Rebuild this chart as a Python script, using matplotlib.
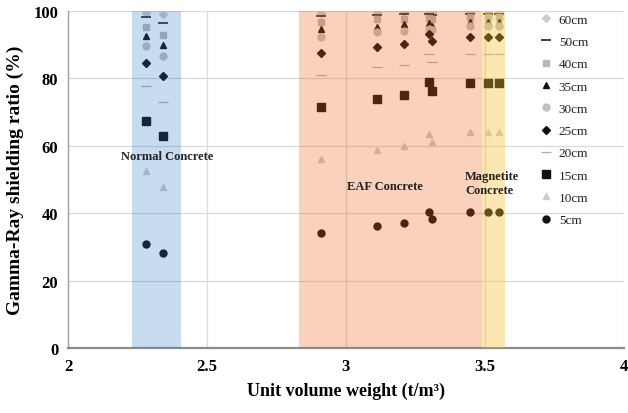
import matplotlib
matplotlib.use("Agg")
import matplotlib.pyplot as plt

# Unit volume weight of each specimen (t/m3)
density = [2.28, 2.34, 2.91, 3.11, 3.21, 3.30, 3.31, 3.445, 3.51, 3.55]

# Gamma-ray shielding ratio (%) per specimen thickness
ratio_5cm = [31.0, 28.1, 34.0, 36.1, 37.1, 40.4, 38.2, 40.3, 40.3, 40.3]
ratio_10cm = [52.4, 47.9, 56.0, 58.8, 60.0, 63.5, 61.2, 64.0, 64.0, 64.0]
ratio_15cm = [67.5, 62.8, 71.4, 73.8, 75.2, 78.8, 76.2, 78.6, 78.6, 78.6]
ratio_20cm = [77.6, 73.1, 81.0, 83.5, 84.1, 87.2, 85.0, 87.2, 87.2, 87.2]
ratio_25cm = [84.5, 80.8, 87.5, 89.4, 90.2, 93.2, 91.2, 92.2, 92.2, 92.2]
ratio_30cm = [89.6, 86.5, 92.3, 93.7, 94.2, 94.8, 94.5, 95.6, 95.6, 95.6]
ratio_35cm = [92.5, 90.0, 94.6, 95.3, 96.0, 96.4, 95.6, 96.8, 96.8, 96.8]
ratio_40cm = [95.2, 92.8, 96.8, 97.6, 97.6, 97.8, 97.5, 98.2, 98.2, 98.2]
ratio_50cm = [98.3, 96.4, 98.5, 98.9, 99.0, 99.0, 98.9, 99.2, 99.2, 99.2]
ratio_60cm = [99.5, 99.0, 99.4, 99.7, 99.8, 99.7, 99.6, 99.8, 99.8, 99.8]

# Concrete type bands (density ranges)
band_names = ["Normal Concrete", "EAF Concrete", "Magnetite\nConcrete"]
band_ranges = [(2.23, 2.405), (2.832, 3.49), (3.49, 3.572)]

x_ticks = [2, 2.5, 3, 3.5, 4]
x_tick_labels = ["2", "2.5", "3", "3.5", "4"]
y_ticks = [0, 20, 40, 60, 80, 100]

serif = ["Liberation Serif", "DejaVu Serif"]
plt.rcParams["font.family"] = serif

fig = plt.figure(figsize=(6.28, 4.14), dpi=100)
ax = fig.add_axes([68 / 628, 65 / 414, 556 / 628, 337 / 414])

series = [
    ("60cm", ratio_60cm, dict(marker="D", color="#cccccc", ms=3.8, ls="none")),
    ("50cm", ratio_50cm, dict(marker="_", color="#222222", ms=7, mew=1.2, ls="none")),
    ("40cm", ratio_40cm, dict(marker="s", color="#b8b8b8", ms=4.3, ls="none")),
    ("35cm", ratio_35cm, dict(marker="^", color="#111111", ms=4.5, ls="none")),
    ("30cm", ratio_30cm, dict(marker="o", color="#c2c2c2", ms=5, ls="none")),
    ("25cm", ratio_25cm, dict(marker="D", color="#111111", ms=4, ls="none")),
    ("20cm", ratio_20cm, dict(marker="_", color="#b0b0b0", ms=7, mew=0.9, ls="none")),
    ("15cm", ratio_15cm, dict(marker="s", color="#111111", ms=5.5, ls="none")),
    ("10cm", ratio_10cm, dict(marker="^", color="#cccccc", ms=5, ls="none")),
    ("5cm", ratio_5cm, dict(marker="o", color="#111111", ms=5, ls="none")),
]

handles = []
for label, vals, style in series:
    h, = ax.plot(density, vals, label=label, zorder=2, **style)
    handles.append(h)

# Translucent bands drawn over the markers
band_colors = [(0.09, 0.44, 0.73), (0.93, 0.36, 0.06), (0.99, 0.75, 0.15)]
band_alpha = [0.24, 0.28, 0.36]
for (lo, hi), c, a in zip(band_ranges, band_colors, band_alpha):
    ax.axvspan(lo, hi, color=c, alpha=a, lw=0, zorder=3)

txt = dict(fontsize=9, fontweight="bold", color="#222222", zorder=6)
ax.text(2.355, 57, band_names[0], ha="center", va="center", **txt)
ax.text(3.14, 48, band_names[1], ha="center", va="center", **txt)
ax.text(3.428, 49, band_names[2], ha="left", va="center", linespacing=1.3, **txt)

ax.set_xlim(2, 4)
ax.set_ylim(0, 100)
ax.set_xticks(x_ticks)
ax.set_xticklabels(x_tick_labels)
ax.set_yticks(y_ticks)
ax.tick_params(length=0, labelsize=12, pad=7)
for lab in ax.get_xticklabels() + ax.get_yticklabels():
    lab.set_fontweight("bold")

ax.grid(True, color="#d9d9d9", lw=0.9, zorder=0)
ax.set_axisbelow(True)
for s in ("top", "right"):
    ax.spines[s].set_visible(False)
ax.spines["left"].set_color("#a0a0a0")
ax.spines["left"].set_linewidth(1.0)
ax.spines["bottom"].set_color("#8c8c8c")
ax.spines["bottom"].set_linewidth(1.6)

ax.set_xlabel("Unit volume weight (t/m³)", fontsize=13, fontweight="bold", labelpad=6)
ax.set_ylabel("Gamma-Ray shielding ratio (%)", fontsize=14, fontweight="bold", labelpad=7)

leg = ax.legend(handles=handles, loc="upper left", bbox_to_anchor=(0.84, 1.008),
                frameon=False, fontsize=9.5, labelspacing=0.76, handlelength=0.9,
                handletextpad=0.5, borderaxespad=0)
for t in leg.get_texts():
    t.set_color("#222222")
leg.set_zorder(7)

fig.savefig("out.png", dpi=100)
